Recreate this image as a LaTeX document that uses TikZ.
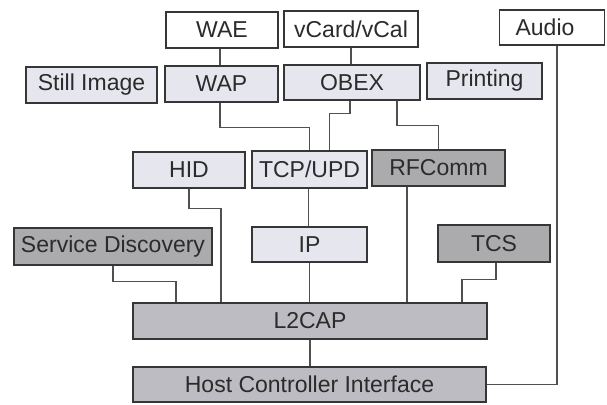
\documentclass[tikz,border=0pt]{standalone}
\usepackage{fontspec}
\setmainfont{Liberation Sans}
\definecolor{boxline}{HTML}{363636}
\definecolor{wireline}{HTML}{505050}
\definecolor{lightfill}{HTML}{E6E6EE}
\definecolor{midfill}{HTML}{BCBCC2}
\definecolor{darkfill}{HTML}{ABABAE}
\definecolor{txt}{HTML}{2B2B2B}
\begin{document}
\begin{tikzpicture}[x=1pt,y=-1pt,
  layer/.style={draw=boxline,line width=1.6pt,inner sep=0pt,text=txt,
    font=\fontsize{23}{25}\selectfont,anchor=center},
  whitebox/.style={layer,fill=white},
  lightbox/.style={layer,fill=lightfill},
  midbox/.style={layer,fill=midfill},
  darkbox/.style={layer,fill=darkfill},
  wire/.style={draw=wireline,line width=1.2pt}]
\useasboundingbox (0,0) rectangle (607,404);
% top row
\node[whitebox,minimum width=112,minimum height=36] (WAE) at (222,30) {WAE};
\node[whitebox,minimum width=134,minimum height=36] (VC) at (351,29) {vCard/vCal};
\node[whitebox,minimum width=105,minimum height=35] (AU) at (552,27.5) {Audio\hspace*{14pt}};
% second row
\node[lightbox,minimum width=131,minimum height=36] (SI) at (91.5,85) {Still Image};
\node[lightbox,minimum width=113,minimum height=36] (WAP) at (221.5,84) {WAP};
\node[lightbox,minimum width=136,minimum height=35] (OBEX) at (352,82.5) {OBEX};
\node[lightbox,minimum width=115,minimum height=36] (PR) at (484.5,81) {Printing};
% third row
\node[lightbox,minimum width=112,minimum height=36] (HID) at (189,170) {HID};
\node[lightbox,minimum width=115,minimum height=37] (TCP) at (309.5,169.5) {TCP/UPD};
\node[darkbox,minimum width=133,minimum height=36] (RF) at (438.5,168) {RFComm};
% fourth row
\node[darkbox,minimum width=198,minimum height=37] (SD) at (113,246.5) {Service Discovery};
\node[lightbox,minimum width=115,minimum height=35] (IP) at (309.5,244.5) {IP};
\node[darkbox,minimum width=112,minimum height=37] (TCS) at (494,243.5) {TCS};
% bottom
\node[midbox,minimum width=354,minimum height=36] (L2) at (310,321) {L2CAP};
\node[midbox,minimum width=353,minimum height=35] (HCI) at (309.5,384.5) {Host Controller Interface};
% connectors
\draw[wire] ([xshift=-2]WAE.south) -- ([xshift=-2]WAE.south |- WAP.north);
\draw[wire] (VC.south) -- (VC.south |- OBEX.north);
\draw[wire] ([xshift=-1.5]WAP.south) -- ++(0,25) -| (TCP.north);
\draw[wire] ([xshift=-2]OBEX.south) -- ++(0,13) -| ([xshift=20]TCP.north);
\draw[wire] ([xshift=45]OBEX.south) -- ++(0,25) -| (RF.north);
\draw[wire] (HID.south) -- ++(0,20) -| ([xshift=-89]L2.north);
\draw[wire] ([xshift=-1]TCP.south) -- ([xshift=-1]TCP.south |- IP.north);
\draw[wire] (IP.south) -- (IP.south |- L2.north);
\draw[wire] ([xshift=-31.5]RF.south) -- ([xshift=-31.5]RF.south |- L2.north);
\draw[wire] (SD.south) -- ++(0,16) -| ([xshift=-134]L2.north);
\draw[wire] ([xshift=2]TCS.south) -- ++(0,17) -| ([xshift=152]L2.north);
\draw[wire] (L2.south) -- (L2.south |- HCI.north);
\draw[wire] ([xshift=5]AU.south) |- (HCI.east);
\end{tikzpicture}
\end{document}
